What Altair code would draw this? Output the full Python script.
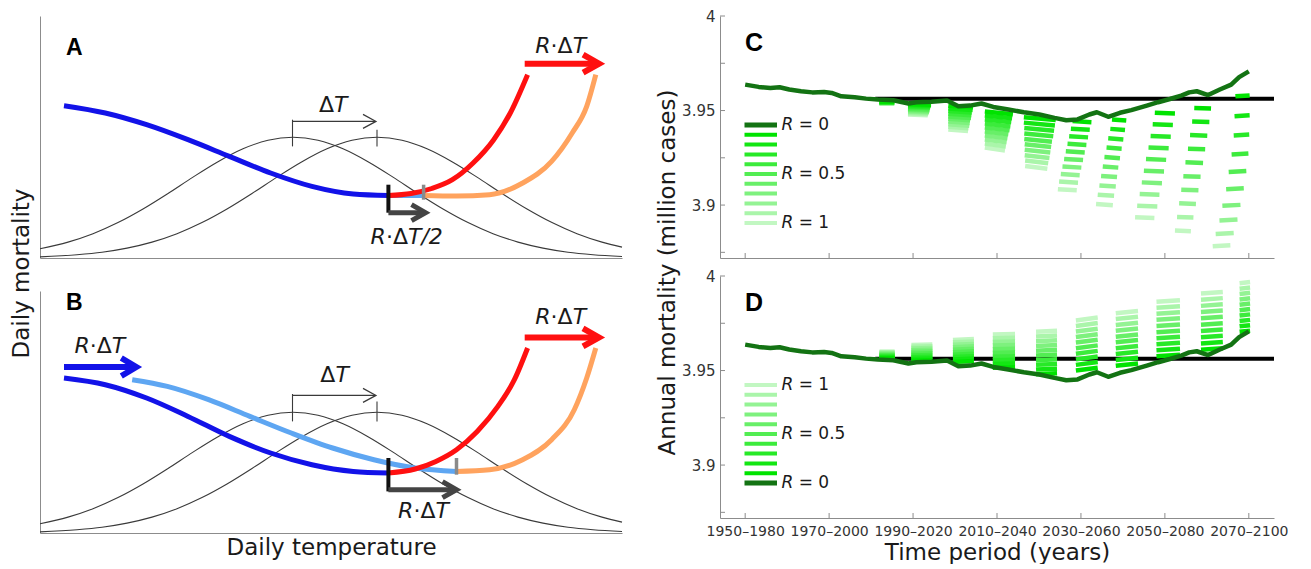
import altair as alt
import pandas as pd

FONT = "DejaVu Sans"
LETTER_FONT = "Liberation Sans"

# ------------------------------------------------------------------ panels A / B
# schematic coordinates (1 unit ~ 1 px of the plot area)
GAUSS1_U = [0, 28, 53, 78, 103, 128, 153, 178, 203, 228, 253, 278, 303, 328, 353, 378, 403, 428, 453, 478, 503, 528, 553, 582]
GAUSS1_V = [9.3, 15.9, 24.3, 35.4, 49.0, 64.5, 80.9, 96.3, 109.2, 117.7, 120.7, 117.7, 109.2, 96.3, 80.9, 64.5, 49.0, 35.4, 24.3, 15.9, 9.9, 5.8, 3.3, 1.5]
GAUSS2_U = [0, 37, 62, 87, 112, 137, 162, 187, 212, 237, 262, 287, 312, 337, 362, 387, 412, 437, 462, 487, 512, 537, 562, 582]
GAUSS2_V = [1.1, 3.3, 5.8, 9.9, 15.9, 24.3, 35.4, 49.0, 64.5, 80.9, 96.3, 109.2, 117.7, 120.7, 117.7, 109.2, 96.3, 80.9, 64.5, 49.0, 35.4, 24.3, 15.9, 10.9]

A_BLUE_U = [24.0, 65.3, 106.6, 148.0, 189.3, 230.6, 271.9, 313.2, 348.4]
A_BLUE_V = [152.3, 145.0, 133.3, 118.3, 101.6, 85.0, 71.6, 64.0, 62.5]
A_LBLUE_U = [348.4, 383.6]
A_LBLUE_V = [62.5, 62.5]
A_RED_U = [348.4, 371.1, 391.8, 412.4, 433.1, 453.7, 470.3, 487.6]
A_RED_V = [62.5, 64.5, 69.5, 78.3, 95.0, 118.3, 145.0, 183.3]
A_ORANGE_U = [383.6, 416.5, 449.6, 482.7, 511.6, 532.2, 546.7, 555.8]
A_ORANGE_V = [62.5, 62.0, 63.3, 75.0, 96.6, 125.0, 151.6, 183.3]

B_BLUE_U = [24.0, 65.3, 106.6, 148.0, 189.3, 230.6, 271.9, 313.2, 348.4]
B_BLUE_V = [155.0, 148.3, 135.0, 116.6, 96.6, 80.0, 68.3, 61.6, 60.0]
B_LBLUE_U = [92.2, 127.3, 168.6, 209.9, 251.3, 292.6, 333.9, 375.2, 416.5]
B_LBLUE_V = [153.3, 146.6, 133.3, 116.6, 100.0, 85.0, 73.3, 65.0, 61.6]
B_RED_U = [348.4, 375.2, 395.9, 416.5, 437.2, 457.9, 474.4, 487.6]
B_RED_V = [60.0, 64.0, 71.6, 83.3, 101.6, 126.6, 153.3, 185.0]
B_ORANGE_U = [416.5, 449.6, 482.6, 511.6, 534.3, 546.7, 555.8]
B_ORANGE_V = [61.6, 63.3, 73.3, 93.3, 123.3, 155.0, 185.0]

# arrows: (start u, tip u, v)
A_ARROW_RED = (484.7, 559.1, 194.3)
A_ARROW_SHIFT = (348.4, 385.5, 45.3)
A_ARROW_DT = (252.5, 336.0, 136.6)
B_ARROW_RED = (484.7, 559.0, 195.6)
B_ARROW_BLUE = (24.0, 96.3, 166.0)
B_ARROW_SHIFT = (348.4, 416.5, 43.3)
B_ARROW_DT = (252.5, 336.0, 137.6)
# vertical bars: (u, v top, v bottom)
A_BAR_BLACK = (348.4, 73.3, 45.3)
A_BAR_GRAY = (383.6, 73.3, 58.3)
B_BAR_BLACK = (348.4, 75.0, 41.6)
B_BAR_GRAY = (416.5, 75.0, 58.3)
A_PEAK_TICKS = [(252.5, 138.3, 111.6), (337.0, 128.3, 111.6)]
B_PEAK_TICKS = [(252.5, 139.0, 111.6), (337.0, 131.6, 111.6)]

LABEL_DT = [("Δ", False), ("T", True)]
LABEL_RDT = [("R", True), ("·Δ", False), ("T", True)]
LABEL_RDT2 = [("R", True), ("·Δ", False), ("T/2", True)]
A_TEXTS = [(LABEL_DT, 293.3, 153.3), (LABEL_RDT, 520.7, 212.0), (LABEL_RDT2, 366.7, 21.3)]
B_TEXTS = [(LABEL_DT, 294.6, 158.3), (LABEL_RDT, 59.9, 187.5), (LABEL_RDT, 520.7, 215.8), (LABEL_RDT, 383.5, 21.6)]

# ------------------------------------------------------------------ panels C / D
YEARS_TICKS = [1950, 1970, 1990, 2010, 2030, 2050, 2070]
VAL_TICKS = [3.875, 3.9, 3.925, 3.95, 3.975, 4.0]

DARK_YEAR = [1950.0, 1953.2, 1956.0, 1958.2, 1960.5, 1963.3, 1966.0, 1968.8, 1970.6, 1972.9, 1976.1,
             1978.8, 1981.6, 1985.3, 1988.9, 1990.8, 1994.4, 1998.1, 2000.8, 2003.6, 2006.3, 2009.1,
             2012.7, 2016.4, 2020.1, 2023.7, 2026.5, 2029.2, 2032.0, 2033.8, 2036.5, 2039.3, 2042.0,
             2045.7, 2048.4, 2051.2, 2053.9, 2055.8, 2057.6, 2060.3, 2063.1, 2065.8, 2067.7, 2070.0]
DARK_VAL = [3.9637, 3.9625, 3.9619, 3.9623, 3.9611, 3.9602, 3.9596, 3.9598, 3.9593, 3.9575, 3.9570,
            3.9563, 3.9558, 3.9554, 3.9537, 3.9544, 3.9547, 3.9553, 3.9523, 3.9526, 3.9537, 3.9519,
            3.9505, 3.9491, 3.9479, 3.9461, 3.9449, 3.9453, 3.9479, 3.9491, 3.9467, 3.9488, 3.9502,
            3.9526, 3.9544, 3.9561, 3.9579, 3.9596, 3.9602, 3.9582, 3.9611, 3.9637, 3.9677, 3.9707]
BASELINE = (1981.0, 2076.0, 3.9562)

# C: dashes listed from R = 0.1 (top) to R = 1 (bottom); (x0 list, x1 list, value list, end offset)
C_CLUSTERS = [
    ([1982.0] * 10, [1985.5] * 10,
     [3.9546, 3.9545, 3.9544, 3.9543, 3.9542, 3.9541, 3.9540, 3.9539, 3.9538, 3.9537], 0.0),
    ([1988.8] * 10, [1994.3, 1994.2, 1994.1, 1994.0, 1993.9, 1993.9, 1993.8, 1993.7, 1993.6, 1993.5],
     [3.9535, 3.9529, 3.9523, 3.9517, 3.9510, 3.9504, 3.9498, 3.9492, 3.9486, 3.9479], -0.0004),
    ([1998.4] * 10, [2004.3, 2004.2, 2004.0, 2003.9, 2003.8, 2003.6, 2003.5, 2003.4, 2003.2, 2003.1],
     [3.9525, 3.9511, 3.9497, 3.9483, 3.9469, 3.9456, 3.9442, 3.9428, 3.9414, 3.9400], -0.0008),
    ([2007.1] * 10, [2013.8, 2013.6, 2013.4, 2013.2, 2013.0, 2012.7, 2012.5, 2012.3, 2012.1, 2011.9],
     [3.9495, 3.9474, 3.9453, 3.9431, 3.9410, 3.9389, 3.9368, 3.9347, 3.9325, 3.9304], -0.0015),
    ([2016.4, 2016.4, 2016.5, 2016.5, 2016.5, 2016.6, 2016.6, 2016.6, 2016.7, 2016.7],
     [2024.0, 2023.8, 2023.6, 2023.4, 2023.1, 2022.9, 2022.7, 2022.5, 2022.2, 2022.0],
     [3.9465, 3.9436, 3.9408, 3.9379, 3.9350, 3.9322, 3.9293, 3.9264, 3.9236, 3.9207], -0.0015),
    ([2028.0, 2027.6, 2027.2, 2026.8, 2026.4, 2026.0, 2025.6, 2025.2, 2024.8, 2024.5],
     [2032.5, 2032.1, 2031.7, 2031.3, 2030.9, 2030.5, 2030.1, 2029.7, 2029.3, 2029.0],
     [3.9444, 3.9404, 3.9364, 3.9324, 3.9284, 3.9244, 3.9204, 3.9164, 3.9124, 3.9084], -0.0006),
    ([2037.4, 2037.0, 2036.5, 2036.1, 2035.6, 2035.2, 2034.8, 2034.4, 2034.0, 2033.6],
     [2040.8, 2040.5, 2040.1, 2039.7, 2039.3, 2038.9, 2038.6, 2038.3, 2037.9, 2037.6],
     [3.9453, 3.9403, 3.9353, 3.9304, 3.9254, 3.9204, 3.9154, 3.9104, 3.9055, 3.9005], -0.0006),
    ([2047.6, 2047.1, 2046.6, 2046.1, 2045.5, 2045.0, 2044.5, 2044.0, 2043.4, 2042.9],
     [2052.4, 2051.9, 2051.4, 2050.9, 2050.3, 2049.8, 2049.3, 2048.7, 2048.2, 2047.5],
     [3.9488, 3.9427, 3.9365, 3.9304, 3.9243, 3.9181, 3.9120, 3.9058, 3.8997, 3.8935], -0.0004),
    ([2057.0, 2056.5, 2056.0, 2055.5, 2054.9, 2054.4, 2053.9, 2053.4, 2052.9, 2052.4],
     [2061.0, 2060.6, 2060.1, 2059.6, 2059.1, 2058.5, 2058.0, 2057.4, 2056.8, 2056.2],
     [3.9514, 3.9442, 3.9370, 3.9298, 3.9226, 3.9153, 3.9081, 3.9009, 3.8937, 3.8865], -0.0003),
    ([2066.8, 2066.6, 2066.4, 2065.9, 2065.2, 2064.6, 2063.7, 2063.0, 2062.1, 2061.4],
     [2070.2, 2070.2, 2070.1, 2069.9, 2069.4, 2068.8, 2068.0, 2067.3, 2066.4, 2065.6],
     [3.9575, 3.9470, 3.9368, 3.9268, 3.9175, 3.9084, 3.8996, 3.8918, 3.8847, 3.8782], 0.0005),
]
# D: dashes listed from R = 0.1 (bottom) to R = 1 (top)
D_CLUSTERS = [
    ([1982.0] * 10, [1985.6] * 10,
     [3.9565, 3.9569, 3.9573, 3.9577, 3.9581, 3.9585, 3.9589, 3.9593, 3.9597, 3.9600], 0.0),
    ([1989.6] * 10, [1994.6] * 10,
     [3.9552, 3.9561, 3.9570, 3.9579, 3.9589, 3.9598, 3.9607, 3.9616, 3.9626, 3.9635], 0.0003),
    ([1999.5] * 10, [2004.5] * 10,
     [3.9545, 3.9558, 3.9571, 3.9584, 3.9597, 3.9610, 3.9623, 3.9636, 3.9649, 3.9662], 0.0005),
    ([2009.0] * 10, [2014.3] * 10,
     [3.9515, 3.9534, 3.9554, 3.9573, 3.9593, 3.9612, 3.9632, 3.9651, 3.9671, 3.9690], 0.0003),
    ([2019.3] * 10, [2024.3] * 10,
     [3.9480, 3.9505, 3.9530, 3.9555, 3.9580, 3.9605, 3.9630, 3.9655, 3.9680, 3.9705], 0.0005),
    ([2028.8] * 10, [2034.0] * 10,
     [3.9500, 3.9530, 3.9559, 3.9589, 3.9618, 3.9648, 3.9677, 3.9706, 3.9736, 3.9765], 0.0015),
    ([2038.3] * 10, [2043.6] * 10,
     [3.9525, 3.9556, 3.9587, 3.9618, 3.9649, 3.9679, 3.9710, 3.9741, 3.9772, 3.9803], 0.0012),
    ([2048.0] * 10, [2053.6] * 10,
     [3.9575, 3.9607, 3.9639, 3.9671, 3.9703, 3.9736, 3.9768, 3.9800, 3.9832, 3.9864], 0.0008),
    ([2058.6] * 10, [2063.8] * 10,
     [3.9610, 3.9643, 3.9676, 3.9709, 3.9742, 3.9776, 3.9809, 3.9842, 3.9875, 3.9908], 0.0008),
    ([2067.8] * 10, [2070.3] * 10,
     [3.9705, 3.9734, 3.9762, 3.9791, 3.9819, 3.9848, 3.9876, 3.9905, 3.9933, 3.9962], 0.0006),
]
R_VALUES = [0.1, 0.2, 0.3, 0.4, 0.5, 0.6, 0.7, 0.8, 0.9, 1.0]
R_COLORS = ["#00e300", "#13e613", "#27e927", "#3ceb3c", "#52ed52",
            "#68ef68", "#7ef17e", "#94f394", "#aaf5aa", "#c2f7c2"]
DARK_GREEN = "#137313"

# ------------------------------------------------------------------ styling / layout
W_L, H_L = 582, 242
W_R, H_R = 554, 242
X0, X1 = 1944.0, 2076.0
Y0, Y1 = 3.872, 4.0
PXY = W_R / (X1 - X0)
PYV = H_R / (Y1 - Y0)

BLUE, LBLUE, RED, ORANGE = "#1212e8", "#5ea6f2", "#ff1010", "#ffa35e"
AX_COLOR = "#8c8c8c"
TXT = "#1a1a1a"
ANN_FS = 22
TITLE_FS = 23
EM = {'R': 0.695, '·': 0.318, 'Δ': 0.684, 'T': 0.611, '/': 0.337, '2': 0.636,
      '=': 0.838, ' ': 0.318, '0': 0.636, '.': 0.318, '5': 0.636, '1': 0.636}


def text_width(s, fs):
    return sum(EM.get(c, 0.6) for c in s) * fs


def place(parts, uc, v, fs):
    total = sum(text_width(s, fs) for s, _ in parts)
    x = uc - total / 2
    rows = []
    for s, it in parts:
        rows.append(dict(u=x, v=v, t=s, it=it))
        x += text_width(s, fs)
    return rows


def poly(rows, pid, us, vs, color, sw):
    for i, (u, v) in enumerate(zip(us, vs)):
        rows.append(dict(id=pid, ord=i, u=u, v=v, color=color, sw=sw))


def arrow(rows, pid, spec, color, sw, back, half):
    u0, tip, v = spec
    poly(rows, pid + "_s", [u0, tip - sw * 0.6], [v, v], color, sw)
    poly(rows, pid + "_h", [tip - back, tip, tip - back], [v + half, v, v - half], color, sw)


def schematic(panel):
    if panel == "A":
        blue = (A_BLUE_U, A_BLUE_V); lblue = (A_LBLUE_U, A_LBLUE_V)
        red = (A_RED_U, A_RED_V); orange = (A_ORANGE_U, A_ORANGE_V)
        texts = A_TEXTS; ticks = A_PEAK_TICKS
        bars = [(A_BAR_BLACK, "#111111", 4), (A_BAR_GRAY, "#8a8a8a", 3.5)]
        arrows = [("red", A_ARROW_RED, RED, 6, 16, 9), ("shift", A_ARROW_SHIFT, "#444444", 5, 14, 8)]
        dt = A_ARROW_DT
        letter = ("A", 26, 210.5)
    else:
        blue = (B_BLUE_U, B_BLUE_V); lblue = (B_LBLUE_U, B_LBLUE_V)
        red = (B_RED_U, B_RED_V); orange = (B_ORANGE_U, B_ORANGE_V)
        texts = B_TEXTS; ticks = B_PEAK_TICKS
        bars = [(B_BAR_BLACK, "#111111", 4), (B_BAR_GRAY, "#8a8a8a", 3.5)]
        arrows = [("red", B_ARROW_RED, RED, 6, 16, 9), ("blue", B_ARROW_BLUE, BLUE, 6, 15, 9),
                  ("shift", B_ARROW_SHIFT, "#444444", 5, 14, 8)]
        dt = B_ARROW_DT
        letter = ("B", 26, 230.0)

    gauss = []
    poly(gauss, "g1", GAUSS1_U, GAUSS1_V, "#3a3a3a", 1.1)
    poly(gauss, "g2", GAUSS2_U, GAUSS2_V, "#3a3a3a", 1.1)

    smooth = []
    poly(smooth, "lblue", lblue[0], lblue[1], LBLUE, 5)
    poly(smooth, "blue", blue[0], blue[1], BLUE, 5)
    poly(smooth, "orange", orange[0], orange[1], ORANGE, 5)
    poly(smooth, "red", red[0], red[1], RED, 5)

    straight = []
    for i, (u, vt, vb) in enumerate(ticks):
        poly(straight, f"tick{i}", [u, u], [vt, vb], "#3a3a3a", 1.1)
    arrow(straight, "dt", dt, "#3a3a3a", 1.2, 13, 7)
    for i, ((u, vt, vb), c, w) in enumerate(bars):
        poly(straight, f"bar{i}", [u, u], [vt, vb], c, w)
    for name, spec, c, w, back, half in arrows:
        arrow(straight, name, spec, c, w, back, half)

    trows = []
    for parts, uc, v in texts:
        trows += place(parts, uc, v, ANN_FS)
    tdf = pd.DataFrame(trows)

    x = alt.X("u:Q", scale=alt.Scale(domain=[0, W_L], nice=False, zero=False),
              axis=alt.Axis(title="Daily temperature" if panel == "B" else None, grid=False, ticks=False,
                            labels=False, domainColor=AX_COLOR, titleFontSize=TITLE_FS,
                            titleFontWeight="normal", titleColor=TXT, titlePadding=3))
    yaxis = dict(grid=False, ticks=False, labels=False, domainColor=AX_COLOR)
    if panel == "A":
        yaxis.update(title="Daily mortality", titleX=-7, titleY=257, titleFontSize=TITLE_FS,
                     titleFontWeight="normal", titleColor=TXT)
    else:
        yaxis.update(title=None)
    y = alt.Y("v:Q", scale=alt.Scale(domain=[0, H_L], nice=False, zero=False), axis=alt.Axis(**yaxis))

    enc = dict(x=x, y=y, detail="id:N", order="ord:Q",
               color=alt.Color("color:N", scale=None),
               strokeWidth=alt.StrokeWidth("sw:Q", scale=None))
    l_gauss = alt.Chart(pd.DataFrame(gauss)).mark_line(interpolate="monotone").encode(**enc)
    l_smooth = alt.Chart(pd.DataFrame(smooth)).mark_line(interpolate="monotone", strokeCap="butt").encode(**enc)
    l_straight = alt.Chart(pd.DataFrame(straight)).mark_line(
        interpolate="linear", strokeCap="butt", strokeJoin="miter").encode(**enc)
    t_norm = alt.Chart(tdf[~tdf.it]).mark_text(font=FONT, fontSize=ANN_FS, align="left", baseline="middle",
                                               color=TXT).encode(x=x, y=y, text="t:N")
    t_ital = alt.Chart(tdf[tdf.it]).mark_text(font=FONT, fontSize=ANN_FS, align="left", baseline="middle",
                                              fontStyle="italic", color=TXT).encode(x=x, y=y, text="t:N")
    t_letter = alt.Chart(pd.DataFrame([dict(u=letter[1], v=letter[2], t=letter[0])])).mark_text(
        font=LETTER_FONT, fontSize=23, fontWeight="bold", align="left", baseline="middle", color="#000"
    ).encode(x=x, y=y, text="t:N")
    return alt.layer(l_gauss, l_smooth, l_straight, t_norm, t_ital, t_letter).properties(width=W_L, height=H_L)


def results(panel):
    clusters = C_CLUSTERS if panel == "C" else D_CLUSTERS
    dash = []
    for ci, (x0s, x1s, vals, de) in enumerate(clusters):
        for j in reversed(range(10)):
            dash.append(dict(year=x0s[j], year2=x1s[j], val=vals[j], val2=vals[j] + de,
                             color=R_COLORS[j], k=ci * 10 + (9 - j)))
    ddf = pd.DataFrame(dash)

    # legend (R = 0 ... 1), positioned in plot pixels and converted to data units
    leg_colors = [DARK_GREEN] + R_COLORS
    leg_w = [5] + [4] * 10
    order = list(range(11)) if panel == "C" else list(range(10, -1, -1))
    leg = []
    for slot, idx in enumerate(order):
        leg.append(dict(year=X0 + 24.5 / PXY, year2=X0 + 57 / PXY, val=Y1 - (109 + 9.8 * slot) / PYV,
                        color=leg_colors[idx], sw=leg_w[idx]))
    ldf = pd.DataFrame(leg)
    lab_slots = [(0, "0"), (5, "0.5"), (10, "1")] if panel == "C" else [(0, "1"), (5, "0.5"), (10, "0")]
    lab_it, lab_n = [], []
    for slot, txt in lab_slots:
        yv = Y1 - (109 + 9.8 * slot) / PYV
        lab_it.append(dict(year=X0 + 61.5 / PXY, val=yv, t="R"))
        lab_n.append(dict(year=X0 + (61.5 + text_width("R ", 17)) / PXY, val=yv, t="= " + txt))

    show_x = panel == "D"
    x = alt.X("year:Q", scale=alt.Scale(domain=[X0, X1], nice=False, zero=False),
              axis=alt.Axis(values=YEARS_TICKS, grid=False, ticks=False, labels=show_x,
                            labelExpr="format(datum.value, 'd') + '–' + format(datum.value + 30, 'd')",
                            labelFontSize=14, labelColor="#333", labelPadding=6, labelFlush=False,
                            labelOverlap=False, domainColor=AX_COLOR,
                            title="Time period (years)" if show_x else None, titleFontSize=TITLE_FS,
                            titleFontWeight="normal", titleColor=TXT, titlePadding=3))
    yaxis = dict(values=VAL_TICKS, grid=False, ticks=False, labelFontSize=15, labelColor="#333",
                 labelPadding=5, domainColor=AX_COLOR,
                 labelExpr="datum.value > 3.999 ? '4' : (abs(datum.value - 3.95) < 0.001 ? '3.95' : "
                           "(abs(datum.value - 3.9) < 0.001 ? '3.9' : ''))")
    if panel == "C":
        yaxis.update(title="Annual mortality (million cases)", titleX=-41, titleY=256,
                     titleFontSize=TITLE_FS, titleFontWeight="normal", titleColor=TXT)
    else:
        yaxis.update(title=None)
    y = alt.Y("val:Q", scale=alt.Scale(domain=[Y0, Y1], nice=False, zero=False), axis=alt.Axis(**yaxis))

    base_line = alt.Chart(pd.DataFrame([dict(year=BASELINE[0], year2=BASELINE[1], val=BASELINE[2])])).mark_rule(
        color="#000", strokeWidth=4, strokeCap="butt").encode(x=x, x2="year2:Q", y=y)
    dashes = alt.Chart(ddf).mark_rule(strokeWidth=4.5, strokeCap="butt").encode(
        x=x, x2="year2:Q", y=y, y2="val2:Q", color=alt.Color("color:N", scale=None), order="k:Q")
    dark = alt.Chart(pd.DataFrame(dict(year=DARK_YEAR, val=DARK_VAL))).mark_line(
        color=DARK_GREEN, strokeWidth=4.5, strokeJoin="round").encode(x=x, y=y)
    legbars = alt.Chart(ldf).mark_rule(strokeCap="butt").encode(
        x=x, x2="year2:Q", y=y, color=alt.Color("color:N", scale=None),
        strokeWidth=alt.StrokeWidth("sw:Q", scale=None))
    leg_it = alt.Chart(pd.DataFrame(lab_it)).mark_text(
        font=FONT, fontSize=17, fontStyle="italic", align="left", baseline="middle", color=TXT
    ).encode(x=x, y=y, text="t:N")
    leg_n = alt.Chart(pd.DataFrame(lab_n)).mark_text(
        font=FONT, fontSize=17, align="left", baseline="middle", color=TXT
    ).encode(x=x, y=y, text="t:N")
    letter = alt.Chart(pd.DataFrame([dict(year=X0 + 25 / PXY, val=Y1 - 27 / PYV, t=panel)])).mark_text(
        font=LETTER_FONT, fontSize=25, fontWeight="bold", align="left", baseline="middle", color="#000"
    ).encode(x=x, y=y, text="t:N")
    xt = alt.Chart(pd.DataFrame(dict(year=YEARS_TICKS))).mark_rule(color=AX_COLOR, strokeWidth=1).encode(
        x=x, y=alt.value(H_R - 5), y2=alt.value(H_R))
    yt = alt.Chart(pd.DataFrame(dict(val=VAL_TICKS))).mark_rule(color=AX_COLOR, strokeWidth=1).encode(
        y=y, x=alt.value(0), x2=alt.value(5))
    return alt.layer(base_line, dashes, dark, legbars, leg_it, leg_n, letter, xt, yt).properties(
        width=W_R, height=H_R)


left = alt.vconcat(schematic("A"), schematic("B"), spacing=33, bounds="flush")
right = alt.vconcat(results("C"), results("D"), spacing=18, bounds="flush")
chart = alt.hconcat(left, right, spacing=31).properties(
    padding={"left": 2, "top": 1, "right": 0, "bottom": 0}
).configure_view(stroke=None).configure_axis(labelFont=FONT, titleFont=FONT).configure_text(font=FONT)

chart.save("out.html", embed_options={"renderer": "svg", "actions": False})
